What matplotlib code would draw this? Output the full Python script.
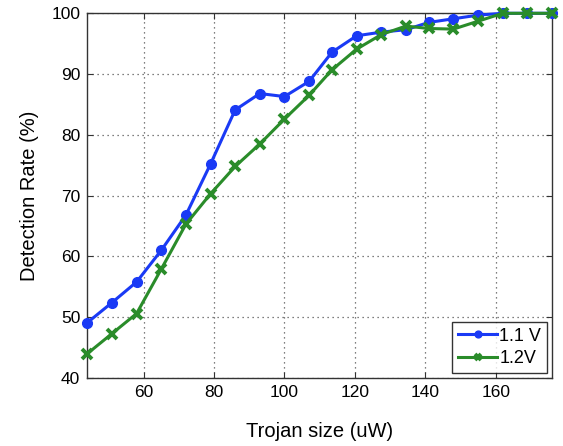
import matplotlib
matplotlib.use("Agg")
import matplotlib.pyplot as plt

plt.rcParams['font.family'] = ['Liberation Sans', 'DejaVu Sans']

trojan_size = [44, 51, 58, 65, 72, 79, 86, 93, 100, 107, 113.5, 120.5, 127.5,
               134.5, 141, 148, 155, 162, 169, 176]
rate_11v = [49.1, 52.4, 55.8, 61.0, 66.8, 75.2, 84.1, 86.8, 86.3, 88.8, 93.6,
            96.3, 96.9, 97.3, 98.5, 99.1, 99.7, 100, 100, 100]
rate_12v = [44.0, 47.3, 50.6, 57.9, 65.3, 70.3, 74.8, 78.5, 82.6, 86.5, 90.7,
            94.1, 96.5, 97.9, 97.5, 97.4, 98.7, 100, 100, 100]
labels = ['1.1 V', '1.2V']
xticks = [60, 80, 100, 120, 140, 160]
yticks = [40, 50, 60, 70, 80, 90, 100]

fig = plt.figure(figsize=(5.63, 4.46), dpi=100)
ax = fig.add_axes([87.3/563, 1 - 378/446, (552 - 87.3)/563, (378 - 13.3)/446])

ax.plot(trojan_size, rate_11v, color='#1a3af5', lw=2.2, marker='o', ms=7,
        label=labels[0], zorder=3, clip_on=False)
ax.plot(trojan_size, rate_12v, color='#2a8c2a', lw=2.2, marker='x', ms=6.5,
        mew=2.8, label=labels[1], zorder=4, clip_on=False)

ax.set_xlim(44, 176)
ax.set_ylim(40, 100)
ax.set_xticks(xticks)
ax.set_yticks(yticks)
ax.tick_params(direction='in', top=True, right=True, length=4, labelsize=12.5,
               color='#333333', pad=5)
ax.grid(True, linestyle=(0, (1, 3)), color='#555555', lw=0.9)
for s in ax.spines.values():
    s.set_color('#333333')
    s.set_linewidth(1.0)

ax.set_xlabel('Trojan size (uW)', fontsize=14.5, labelpad=16)
ax.set_ylabel('Detection Rate (%)', fontsize=14.5, labelpad=9)

leg = ax.legend(loc='lower right', fontsize=13, frameon=True, fancybox=False,
                handlelength=2.2, handletextpad=0.1, borderaxespad=0.3,
                borderpad=0.3, labelspacing=0.3, markerscale=0.7)
leg.get_frame().set_edgecolor('black')
leg.get_frame().set_linewidth(1.0)

fig.savefig('out.png', dpi=100)
